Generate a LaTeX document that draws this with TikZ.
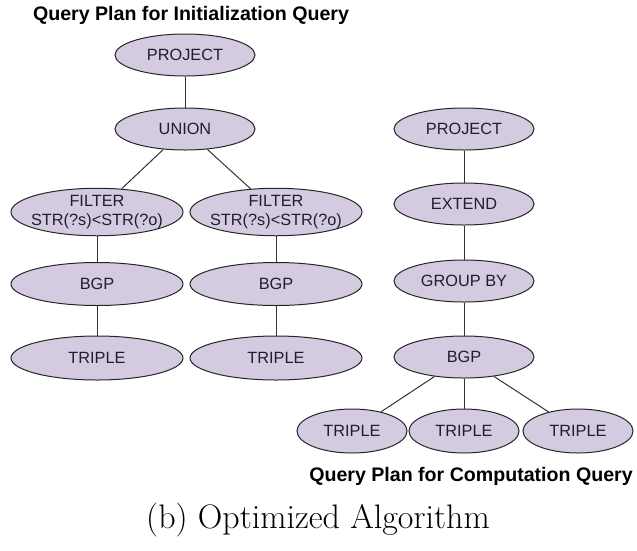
\documentclass[tikz,border=0pt]{standalone}
\usepackage{fontspec}
\setmainfont{Latin Modern Roman}
\newfontfamily\plansans{Liberation Sans}
\usetikzlibrary{shapes.geometric}
\definecolor{opfill}{RGB}{212,203,225}
\definecolor{optext}{RGB}{30,30,50}
\newcommand{\oneline}[1]{\makebox[0pt]{#1}}
\tikzset{
  op/.style={ellipse, draw=black!85, line width=1pt, fill=opfill,
    inner sep=0pt, minimum width=140pt, minimum height=42pt,
    font=\plansans\fontsize{16.3}{19}\selectfont, text=optext, align=center},
  wideop/.style={op, minimum width=172pt, minimum height=46pt},
  leafop/.style={op, minimum width=110pt, minimum height=44pt},
  link/.style={draw=black!80, line width=1pt},
  plantitle/.style={font=\plansans\bfseries\fontsize{19.6}{22}\selectfont, inner sep=0pt}
}
\begin{document}
\begin{tikzpicture}[x=1pt, y=-1pt]
\useasboundingbox (0,0) rectangle (637,550);

% initialization query plan
\node[plantitle] (t1) at (191,15) {Query Plan for Initialization Query};
\node[op] (p1) at (185,55) {PROJECT};
\node[op] (u1) at (185,129) {UNION};
% the filter condition is wider than its ellipse and runs over the border
\node[wideop] (f1) at (97,212) {\oneline{FILTER}\\\oneline{STR(?s)<STR(?o)}};
\node[wideop] (f2) at (276,212) {\oneline{FILTER}\\\oneline{STR(?s)<STR(?o)}};
\node[wideop, minimum height=43pt] (b1) at (97,284) {BGP};
\node[wideop, minimum height=43pt] (b2) at (276,284) {BGP};
\node[wideop, minimum height=44pt] (r1) at (97,358) {TRIPLE};
\node[wideop, minimum height=44pt] (r2) at (276,358) {TRIPLE};

% computation query plan
\node[op] (p2) at (464,129) {PROJECT};
\node[op] (e2) at (464,204) {EXTEND};
\node[op] (g2) at (464,281) {GROUP BY};
\node[op] (b3) at (464,357) {BGP};
\node[leafop] (r3) at (352,431) {TRIPLE};
\node[leafop] (r4) at (464,431) {TRIPLE};
\node[leafop] (r5) at (578,431) {TRIPLE};
\node[plantitle] (t2) at (471,476) {Query Plan for Computation Query};

% edges
\draw[link] (p1) -- (u1);
\draw[link] (u1) -- (f1);
\draw[link] (u1) -- (f2);
\draw[link] (f1) -- (b1);
\draw[link] (f2) -- (b2);
\draw[link] (b1) -- (r1);
\draw[link] (b2) -- (r2);
\draw[link] (p2) -- (e2);
\draw[link] (e2) -- (g2);
\draw[link] (g2) -- (b3);
\draw[link] (b3) -- (r3);
\draw[link] (b3) -- (r4);
\draw[link] (b3) -- (r5);

% caption
\node[font=\fontsize{34}{40}\selectfont, inner sep=0pt] (cap) at (318,520) {(b) Optimized Algorithm};
\end{tikzpicture}
\end{document}
